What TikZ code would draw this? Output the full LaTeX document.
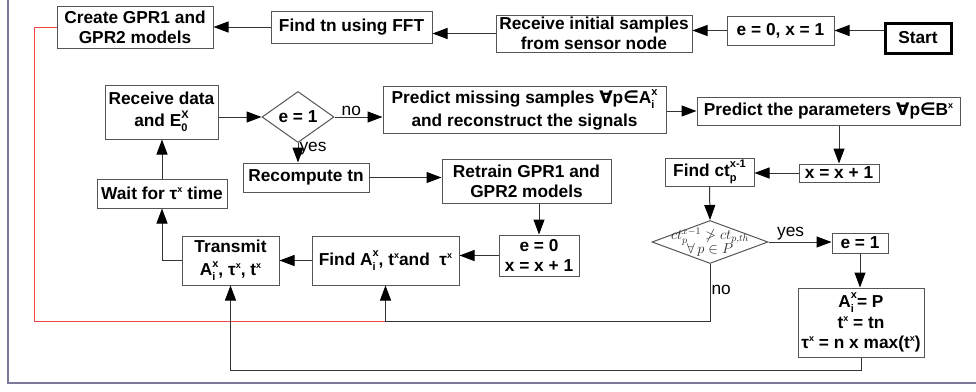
\documentclass[tikz,border=0pt]{standalone}
\usepackage{fontspec}
\setmainfont{Liberation Sans}
\newfontfamily\dv{DejaVu Sans}
\usetikzlibrary{arrows.meta,shapes.geometric,calc}
\definecolor{boxgray}{HTML}{555555}
\definecolor{linegray}{HTML}{333333}
\definecolor{redline}{HTML}{F04848}
\definecolor{framecol}{HTML}{7A7A98}
\newcommand\ssp[2]{\rlap{\raisebox{-0.55ex}{\fontsize{11}{11}\selectfont #1}}\raisebox{0.95ex}{\fontsize{11}{11}\selectfont #2}}
\newcommand\myup[1]{\raisebox{0.75ex}{\fontsize{9}{9}\selectfont #1}}
\begin{document}
\begin{tikzpicture}[x=1pt,y=-1pt,
  box/.style={draw=boxgray, line width=1pt, fill=white, inner sep=0pt, align=center,
    font=\fontsize{17.3}{20}\selectfont\bfseries},
  dia/.style={diamond, draw=boxgray, line width=1pt, fill=white, align=center},
  arr/.style={draw=linegray, line width=1pt, -{Triangle[length=15pt,width=11pt,color=black]}},
  lab/.style={font=\fontsize{17.3}{20}\selectfont, inner sep=1pt}
]
\useasboundingbox (0,0) rectangle (976,391);
\draw[framecol, line width=1.5pt] (8,-2) -- (8,383) -- (978,383);

% top row
\node[box, minimum width=156pt, minimum height=42pt] (create) at (135,27) {Create GPR1 and\\GPR2 models};
\node[box, minimum width=161pt, minimum height=32pt] (fft) at (351.5,27) {Find tn using FFT};
\node[box, minimum width=196pt, minimum height=37pt] (recv) at (594,33.5) {Receive initial samples\\from sensor node};
\node[box, minimum width=107pt, minimum height=29pt] (e0) at (780.5,30.5) {e = 0, x = 1};
\node[box, line width=3pt, draw=black, minimum width=66pt, minimum height=30pt] (start) at (918,38) {Start};

% second row
\node[box, minimum width=113pt, minimum height=54pt] (rdata) at (161.5,112) {Receive data\\[2pt]and E\ssp{0}{X}};
\node[dia, inner sep=0pt, minimum width=72pt, minimum height=45pt, font=\fontsize{17.3}{20}\selectfont\bfseries] (d1) at (298,117) {e = 1};
\node[box, minimum width=283pt, minimum height=47pt] (pm) at (524.5,110) {Predict missing samples {\dv\bfseries ∀}p{\dv ∈}A\ssp{i}{x}\\[3pt]and reconstruct the signals};
\node[box, minimum width=263pt, minimum height=28pt] (pp) at (828.5,111) {Predict the parameters {\dv\bfseries ∀}p{\dv ∈}B\myup{x}};

\node[box, minimum width=126pt, minimum height=29pt] (rec) at (306,177.5) {Recompute tn};
\node[box, minimum width=169pt, minimum height=44pt] (ret) at (526.5,181) {Retrain GPR1 and\\GPR2 models};
\node[box, minimum width=130pt, minimum height=29pt] (wait) at (162,193.5) {Wait for τ\myup{x} time};
\node[box, minimum width=89pt, minimum height=28pt] (fct) at (709.5,172) {Find ct\ssp{p}{x-1}};
\node[box, minimum width=80pt, minimum height=18pt] (xx) at (839,173) {x = x + 1};

% third row
\node[box, minimum width=80pt, minimum height=41pt] (e0b) at (539,255.5) {e = 0\\x = x + 1};
\node[box, minimum width=147pt, minimum height=49pt] (fa) at (385.5,260.5) {Find A\ssp{i}{x}, t\myup{x}and~~τ\myup{x}};
\node[box, minimum width=97pt, minimum height=49pt] (tr) at (230.5,260.5) {Transmit\\[3pt]A\ssp{i}{x}, τ\myup{x}, t\myup{x}};
\node[dia, inner sep=-16pt, minimum width=116pt, minimum height=43pt, font=\fontsize{14.5}{15}\selectfont, text=black!85] (d2) at (710,242) {$ct_p^{x-1}\not> ct_{p,th}$\\[-3pt]$\forall\, p\in P$};
\node[box, minimum width=56pt, minimum height=20pt] (e1) at (860,243) {e = 1};
\node[box, minimum width=126pt, minimum height=69pt] (ab) at (861,322.5) {A\ssp{i}{x}= P\\[1pt]t\myup{x} = tn\\τ\myup{x} = n x max(t\myup{x})};

% helper coordinates
\coordinate (noturn) at (710,321);
\coordinate (redc) at (34,321);
\coordinate (bot) at (0,370);

% connectors
\draw[arr] (e0.east -| start.west) -- (e0.east);
\draw[arr] (e0.west) -- (e0.west -| recv.east);
\draw[arr] (recv.west) -- (recv.west -| fft.east);
\draw[arr] (fft.west) -- (fft.west -| create.east);
\draw[redline, line width=1pt] (create.west) -| (redc) -- (fa.south |- noturn);

\draw[arr] (d1.west -| rdata.east) -- (d1.west);
\draw[arr] (d1.east) -- node[lab, above, pos=0.35] {no} (d1.east -| pm.west);
\draw[arr] (d1.south) -- node[lab, right, pos=0.3] {yes} (d1.south |- rec.north);
\draw[arr] (pp.west -| pm.east) -- (pp.west);
\draw[arr] (xx.north |- pp.south) -- (xx.north);
\draw[arr] (xx.west) -- (xx.west -| fct.east);
\draw[arr] (fct.south) -- (d2.north);
\draw[arr] (d2.east) -- node[lab, above, pos=0.35] {yes} (d2.east -| e1.west);
\draw[arr] (e1.south) -- (e1.south |- ab.north);
\draw[arr] (ab.south) -- (ab.south |- bot) -| (tr.south);
\draw[arr] (d2.south) -- node[lab, right, pos=0.45] {no} (noturn) -| (fa.south);

\draw[arr] (rec.east) -- (rec.east -| ret.west);
\draw[arr] (e0b.north |- ret.south) -- (e0b.north);
\draw[arr] (e0b.west) -- (e0b.west -| fa.east);
\draw[arr] (fa.west) -- (fa.west -| tr.east);
\draw[arr] (tr.west) -| (wait.south);
\draw[arr] (wait.north) -- (wait.north |- rdata.south);
\end{tikzpicture}
\end{document}
